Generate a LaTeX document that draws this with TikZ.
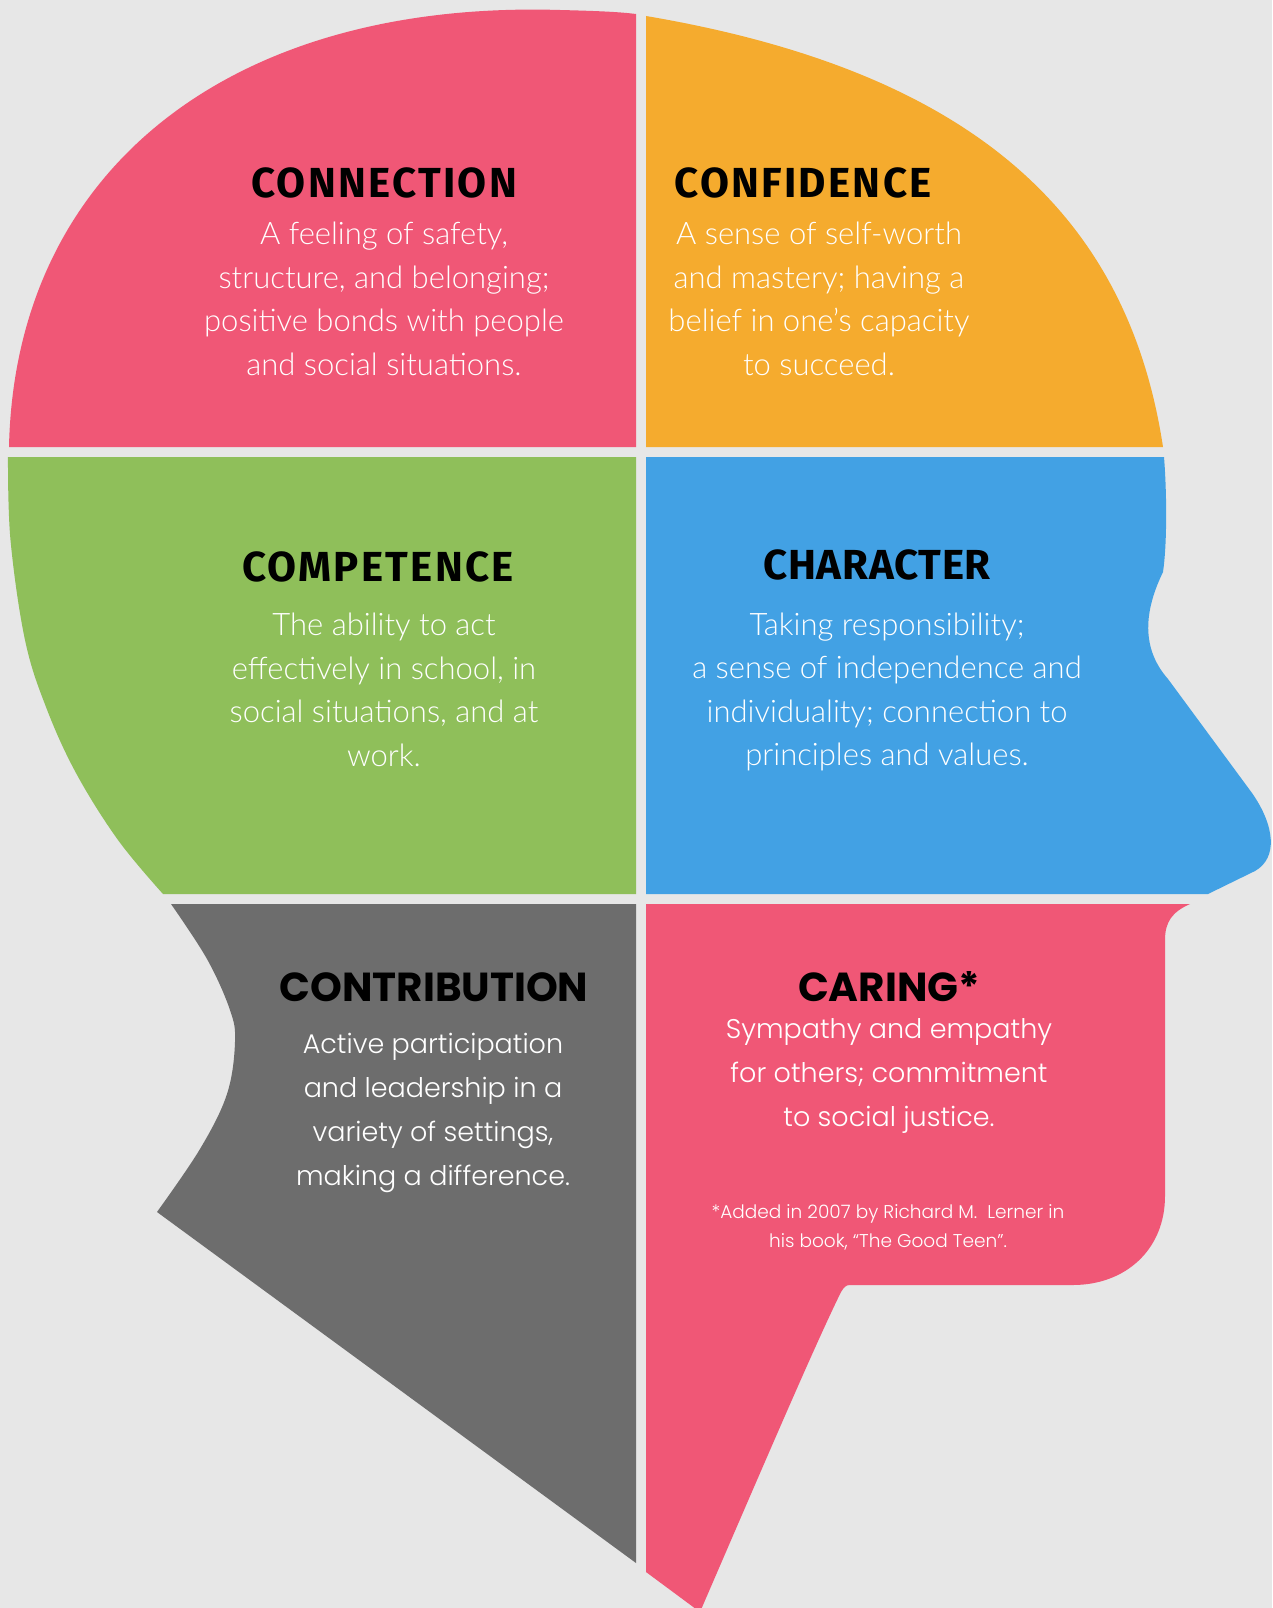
\documentclass[tikz,border=0pt]{standalone}
\usepackage{fontspec}
\setmainfont{Lato}[UprightFont={* Light}]
\newfontfamily\titlef{Fira Sans}[UprightFont={* Bold},LetterSpace=5.5]
\newfontfamily\titlefc{Fira Sans}[UprightFont={* Bold},LetterSpace=1.8]
\newfontfamily\popb{Poppins}[UprightFont={* Bold}]
\newfontfamily\pop{Poppins}[UprightFont={* Light}]
\definecolor{bgc}{HTML}{E7E7E7}
\definecolor{pinkc}{HTML}{F05776}
\definecolor{orangec}{HTML}{F5AB2E}
\definecolor{greenc}{HTML}{8FBF5A}
\definecolor{bluec}{HTML}{42A1E4}
\definecolor{grayc}{HTML}{6D6D6D}
\tikzset{
  ttl/.style={inner sep=0pt, text=black, font=\titlef\fontsize{42}{48}\selectfont},
  ttlc/.style={inner sep=0pt, text=black, font=\titlefc\fontsize{42}{48}\selectfont},
  ttlb/.style={inner sep=0pt, text=black, font=\popb\fontsize{40.5}{48}\selectfont},
  body/.style={inner sep=0pt, text=white, align=center, font=\fontsize{31}{43.5}\selectfont},
  bodyp/.style={inner sep=0pt, text=white, align=center, font=\pop\fontsize{27}{44}\selectfont},
  note/.style={inner sep=0pt, text=white, align=center, font=\pop\fontsize{18.5}{29}\selectfont}
}
\begin{document}
\begin{tikzpicture}[x=1pt,y=-1pt]
\useasboundingbox (0,0) rectangle (1272,1608);
\fill[bgc] (0,0) rectangle (1272,1608);
\clip (0,0) rectangle (1272,1608);
% Connection
\fill[pinkc] (636,447) -- (9,447) .. controls (15,170) and (230,0) .. (560,10)
  .. controls (600,11) and (620,12) .. (636,14) -- cycle;
% Confidence
\fill[orangec] (646,447) -- (646,16) .. controls (976,72) and (1128,217) .. (1163,447) -- cycle;
% Competence
\fill[greenc] (636,457) -- (636,894) -- plot[smooth,tension=0.6] coordinates {(163,894) (118,840) (76,773) (46,707) (25,640) (10.5,540) (8,457)} -- cycle;
% Character
\fill[bluec] (646,457) -- (1164,457) .. controls (1167,495) and (1167,545) .. (1163,572)
  .. controls (1147,605) and (1138,645) .. (1168,679) -- (1252,793)
  .. controls (1275,826) and (1278,858) .. (1255,871) -- (1208,894) -- (646,894) -- cycle;
% Contribution
\fill[grayc] (636,904) -- (636,1563) -- plot[smooth,tension=0.6] coordinates {(157,1212) (200,1149) (227,1094) (235,1042) (230,1010) (207,959) (171,904)} -- cycle;
% Caring
\fill[pinkc] (646,904) -- (1190,904) .. controls (1172,912) and (1165,922) .. (1165,940) -- (1165,1196)
  .. controls (1165,1250) and (1125,1285) .. (1073,1285) -- (850,1285)
  .. controls (846,1285) and (844,1287) .. (841,1292)
  .. controls (815,1345) and (770,1450) .. (700,1612) -- (646,1572) -- cycle;

\node[ttl] (t1) at (384,183) {CONNECTION};
\node[body] (b1) at (384,299) {A feeling of safety,\\structure, and belonging;\\positive bonds with people\\and social situations.};
\node[ttl] (t2) at (803,183) {CONFIDENCE};
\node[body] (b2) at (819,299) {A sense of self-worth\\and mastery; having a\\belief in one’s capacity\\to succeed.};
\node[ttl] (t3) at (378,567) {COMPETENCE};
\node[body] (b3) at (384,690) {The ability to act\\effectively in school, in\\social situations, and at\\work.};
\node[ttlc] (t4) at (877,565) {CHARACTER};
\node[body] (b4) at (887,692) {Taking responsibility;\\a sense of independence and\\individuality; connection to\\principles and values.};
\node[ttlb] (t5) at (434,987) {CONTRIBUTION};
\node[bodyp] (b5) at (433,1112.5) {Active participation\\and leadership in a\\variety of settings,\\making a difference.};
\node[ttlb] (t6) at (889,987) {CARING*};
\node[bodyp] (b6) at (889,1076) {Sympathy and empathy\\for others; commitment\\to social justice.};
\node[note] (n6) at (888,1227) {*Added in 2007 by Richard M.\ \ Lerner in\\his book, “The Good Teen”.};
\end{tikzpicture}
\end{document}
